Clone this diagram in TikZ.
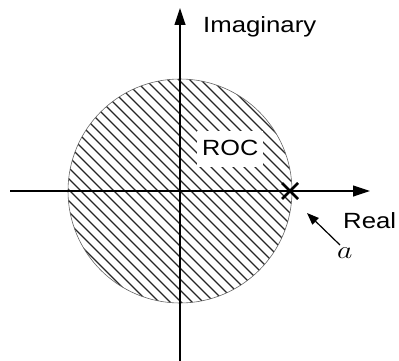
\documentclass[tikz,border=0pt]{standalone}
\usepackage{fontspec}
\setmainfont{Liberation Sans}
\usetikzlibrary{arrows.meta,calc}
\begin{document}
\begin{tikzpicture}[x=1pt,y=-1pt,
  axis/.style={line width=1.2pt,-{Triangle[length=17pt,width=11pt]}},
  hatch/.style={line width=1.2pt,black!85},
  lbl/.style={inner sep=0pt,font=\fontsize{22}{24}\selectfont},
  roc/.style={fill=white,inner sep=0pt,minimum width=66pt,minimum height=36pt}
]
\useasboundingbox (0,0) rectangle (399,361);
\coordinate (O) at (180,191);
\begin{scope}
  \clip (O) circle (112);
  \foreach \c in {-253,-242,...,253}
    \draw[hatch] ($(O)+(-200,-200+\c)$) -- ($(O)+(200,200+\c)$);
\end{scope}
\draw[black!60,line width=0.6pt] (O) circle (112);
\node[roc] (rocbg) at (230,149) {};
\node[lbl,anchor=base west] (roc) at (202,155) {\scalebox{1.15}[1]{ROC}};
\coordinate (vb) at (180,361);
\coordinate (vt) at (180,8);
\coordinate (hl) at (10,191);
\coordinate (hr) at (370,191);
\draw[axis] (vb) -- (vt);
\draw[axis] (hl) -- (hr);
\coordinate (X) at (290,191);
\draw[line width=2.6pt] ($(X)+(-8,-8)$) -- ($(X)+(8,8)$) ($(X)+(-8,8)$) -- ($(X)+(8,-8)$);
\node[lbl,anchor=base west] (imag) at (203,33) {\scalebox{1.17}[1]{Imaginary}};
\node[lbl,anchor=base west] (real) at (343,228) {\scalebox{1.17}[1]{Real}};
\node[inner sep=0pt,anchor=base west,font=\fontsize{25}{27}\selectfont] (a) at (337,258) {\scalebox{1.2}[1]{$a$}};
\coordinate (tail) at (340,245);
\coordinate (tip) at (307,213);
\draw[line width=1.2pt,-{Triangle[length=12pt,width=9pt]}] (tail) -- (tip);
\end{tikzpicture}
\end{document}
